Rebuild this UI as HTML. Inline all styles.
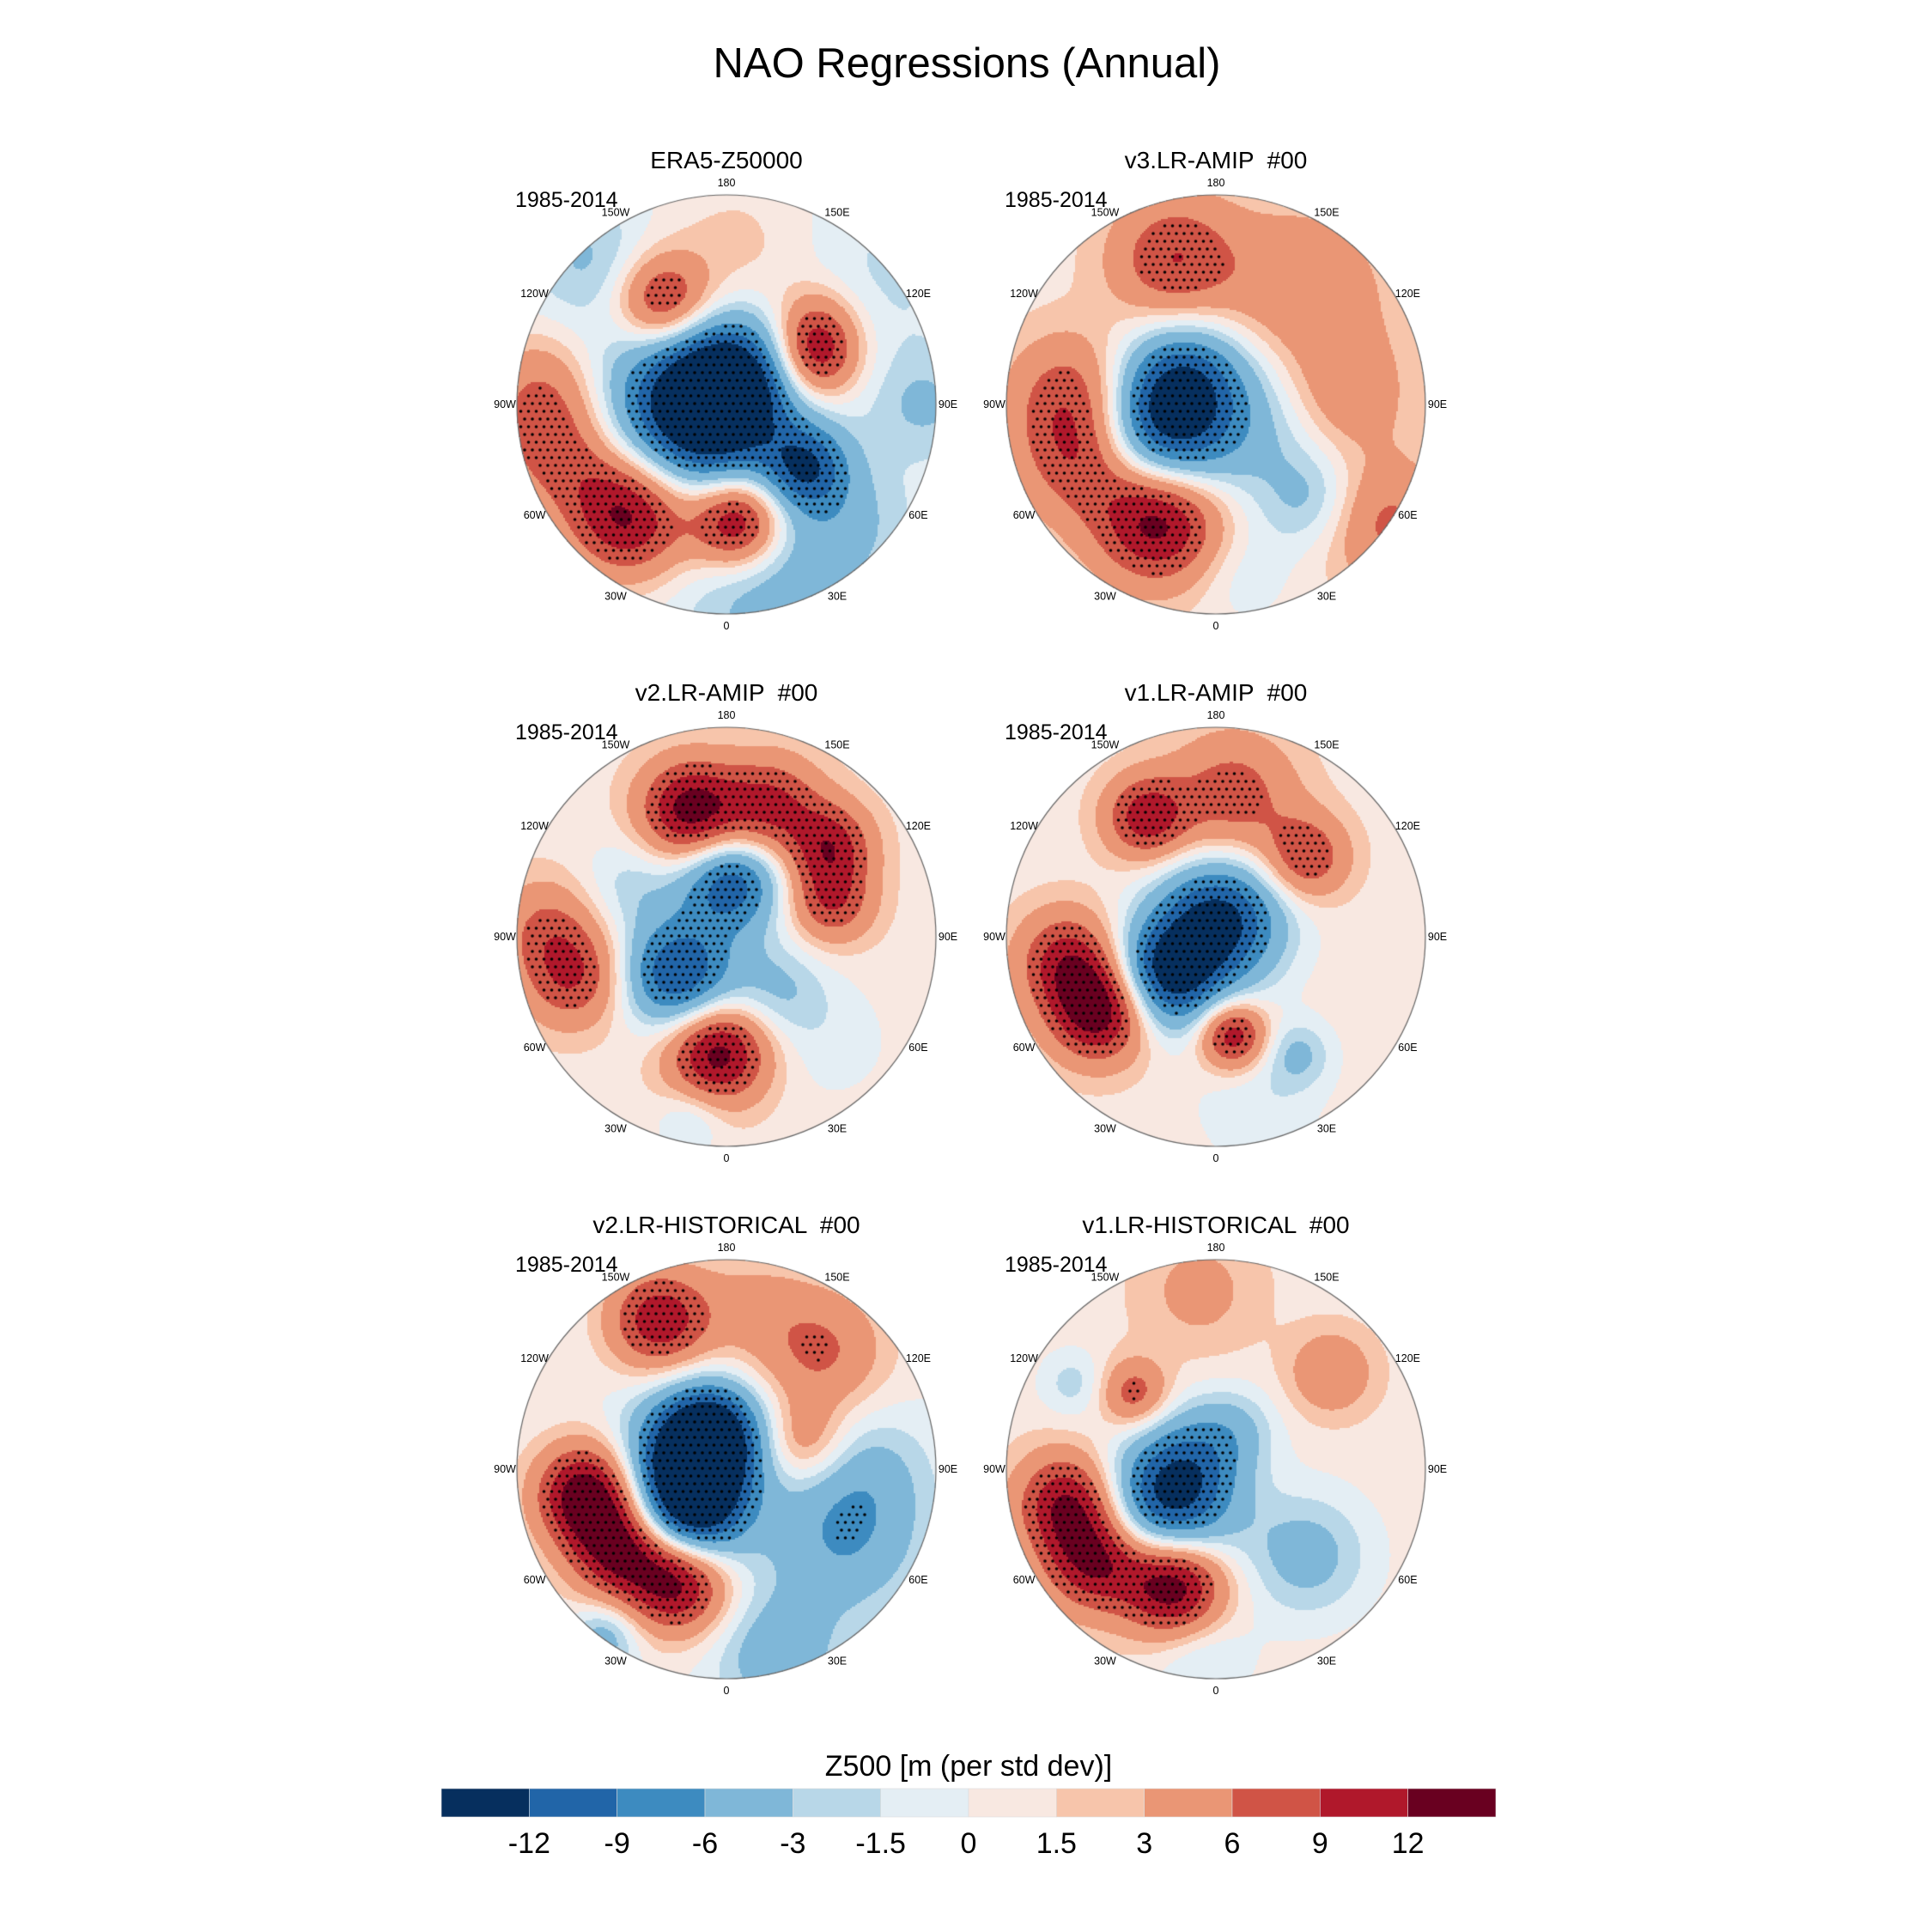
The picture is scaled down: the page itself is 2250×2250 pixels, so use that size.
<!DOCTYPE html>
<html><head><meta charset="utf-8">
<style>
html,body{margin:0;padding:0;background:#fff;}
#wrap{position:relative;width:2250px;height:2250px;overflow:hidden;}
canvas,svg{position:absolute;left:0;top:0;}
text{font-family:"Liberation Sans",sans-serif;fill:#000;white-space:pre;}
</style></head>
<body>
<div id="wrap">
<canvas id="cv" width="2250" height="2250"></canvas>
<svg id="sv" width="2250" height="2250" xml:space="preserve"></svg>
</div>
<script>
// contour levels and colors
const levels = [-12,-9,-6,-3,-1.5,0,1.5,3,6,9,12];
const levelLabels = ["-12","-9","-6","-3","-1.5","0","1.5","3","6","9","12"];
const colors = ["#062f5e","#2165a8","#3d8bc0","#7fb7d8","#b8d7e8","#e4eef4","#f8e8e1","#f7c5ab","#ea9675","#d05446","#b0182b","#690020"];
const panelTitles = ["ERA5-Z50000","v3.LR-AMIP  #00","v2.LR-AMIP  #00","v1.LR-AMIP  #00","v2.LR-HISTORICAL  #00","v1.LR-HISTORICAL  #00"];
const lonLabels = ["0","30E","60E","90E","120E","150E","180","150W","120W","90W","60W","30W"];
const lonValues = [0,30,60,90,120,150,180,210,240,270,300,330];
// background anomaly per panel
const baseValues = [-0.4,0.8,0.8,0.8,0.2,0.8];
// anomaly centres: [u, v, amplitude, sigma] (u,v in units of map radius)
const era5Blobs = [[-0.17,0.06,-14,0.2],[0.02,-0.1,-12,0.15],[0.38,0.3,-10,0.1],[0.2,0.86,-4,0.2],[0.55,0.55,-3,0.15],[0.94,0,-3,0.12],
 [-0.46,0.52,14,0.15],[0.05,0.56,14,0.11],[-0.81,0.22,7,0.15],[-0.9,-0.08,5,0.14],[-0.3,-0.49,10,0.11],[0.43,-0.21,9,0.1],[0.43,-0.37,6,0.1],
 [0.05,-0.73,2.5,0.2],[-0.65,-0.69,-3,0.14],[0.7,-0.6,-1.5,0.2]];
const v3amipBlobs = [[-0.27,0.14,-14,0.17],[-0.14,-0.14,-8,0.14],[0.24,0.06,-4,0.2],[0.46,0.46,-4,0.12],
 [-0.27,0.54,14,0.15],[-0.62,0.26,8,0.15],[-0.68,-0.04,7,0.15],[-0.2,-0.69,8,0.15],[0.4,-0.53,5,0.2],[0.6,-0.04,5,0.15],[0.8,0.56,6,0.15],[0.11,0.8,-2,0.12]];
const v2amipBlobs = [[0.02,-0.26,-12,0.12],[-0.23,0.18,-13,0.13],[-0.45,-0.25,-3,0.12],[0.24,0.25,-4,0.12],
 [-0.17,-0.6,13,0.12],[0.21,-0.62,9,0.12],[0.5,-0.44,9,0.1],[0.5,-0.17,8,0.1],[-0.04,0.55,13,0.12],[-0.73,0.19,8,0.12],[-0.86,-0.05,5,0.12],[-0.17,0.87,-3,0.08],[0.5,0.5,-1.5,0.15]];
const v1amipBlobs = [[0.02,-0.08,-14,0.15],[-0.24,0.19,-14,0.13],[-0.55,0.35,14,0.12],[-0.71,0.11,9,0.12],[0.08,0.47,11,0.08],
 [-0.33,-0.57,10,0.1],[0.43,-0.38,8,0.1],[0.08,-0.67,7,0.15],[0.39,0.56,-4,0.08],[0.2,0.8,-2,0.15]];
const v2histBlobs = [[-0.17,-0.04,-13,0.15],[-0.17,0.21,-13,0.13],[-0.07,-0.18,-11,0.12],[-0.67,0.12,14,0.12],[-0.51,0.38,12,0.12],[-0.23,0.54,13,0.12],
 [-0.32,-0.71,11,0.12],[0.46,-0.56,6,0.15],[0.37,-0.13,5,0.1],[0.12,-0.77,3,0.15],[0.56,0.33,-6,0.18],[0.24,0.88,-5,0.15],[0.68,0,-3,0.15],[-0.58,0.8,-5,0.08]];
const v1histBlobs = [[-0.22,0.14,-14,0.15],[-0.08,-0.09,-4,0.12],[0.1,-0.2,-3,0.1],[-0.71,0.16,11,0.12],[-0.58,0.44,11,0.12],[-0.2,0.56,14,0.12],
 [-0.39,-0.36,7,0.08],[0.55,-0.46,5,0.1],[-0.08,-0.85,3,0.15],[-0.68,-0.41,-3,0.08],[0.43,0.41,-5,0.15],[-0.08,0.88,-3,0.12]];
const panelBlobs = [era5Blobs,v3amipBlobs,v2amipBlobs,v1amipBlobs,v2histBlobs,v1histBlobs];

const centersX = [846,1416], centersY = [471,1091,1711], R = 244;
const sigmaScale = 1.4, ampScale = 1.0;
const cv = document.getElementById('cv'), ctx = cv.getContext('2d');
const sv = document.getElementById('sv'), NS = 'http://www.w3.org/2000/svg';

function colorFor(v){let i=0;while(i<levels.length&&v>=levels[i])i++;return colors[i];}
function field(blobs,base,u,v){let s=base;for(const b of blobs){const dx=u-b[0],dy=v-b[1];const sg=b[3]*sigmaScale;s+=ampScale*b[2]*Math.exp(-(dx*dx+dy*dy)/(2*sg*sg));}return s;}
function txt(x,y,s,size,anchor,name){const t=document.createElementNS(NS,'text');t.setAttribute('x',x);t.setAttribute('y',y);t.setAttribute('font-size',size);t.setAttribute('text-anchor',anchor||'middle');t.textContent=s;
 
 
 sv.appendChild(t);return t;}

txt(1126,90,'NAO Regressions (Annual)',49,'middle','main-title');

panelBlobs.forEach((blobs,p)=>{
  const cx=centersX[p%2], cy=centersY[Math.floor(p/2)];
  const step=2;
  for(let y=-R;y<R;y+=step){for(let x=-R;x<R;x+=step){
    const u=(x+1)/R,v=(y+1)/R; if(u*u+v*v>1.0)continue;
    ctx.fillStyle=colorFor(field(blobs,baseValues[p],u,v)); ctx.fillRect(cx+x,cy+y,step,step);}}
  // stippling
  ctx.fillStyle='#000';
  const sp=9;
  for(let j=-R;j<R;j+=sp){const off=(Math.round(j/sp)%2)?sp/2:0;for(let i=-R+off;i<R;i+=sp){
    const u=i/R,v=j/R; if(u*u+v*v>0.98)continue;
    if(Math.abs(field(blobs,baseValues[p],u,v))>=6.5){ctx.beginPath();ctx.arc(cx+i,cy+j,1.8,0,Math.PI*2);ctx.fill();}}}
  ctx.strokeStyle='#666';ctx.lineWidth=1.2;ctx.beginPath();ctx.arc(cx,cy,R,0,Math.PI*2);ctx.stroke();
  txt(cx,cy-275,panelTitles[p],28,'middle','panel-title');
  txt(cx-246,cy-230,'1985-2014',25,'start','period-label');
  lonValues.forEach((L,k)=>{const a=L*Math.PI/180;const rr=258;
    txt(cx+rr*Math.sin(a),cy+rr*Math.cos(a)+4,lonLabels[k],12.5,'middle','longitude-label');});
});

// colorbar
const cbX=514, cbW=1228, cbY=2083, cbH=33, bw=cbW/colors.length;
const g=document.createElementNS(NS,'g');


sv.appendChild(g);
colors.forEach((c,i)=>{const r=document.createElementNS(NS,'rect');r.setAttribute('x',cbX+i*bw);r.setAttribute('y',cbY);r.setAttribute('width',bw);r.setAttribute('height',cbH);r.setAttribute('fill',c);r.setAttribute('stroke','#ddd');r.setAttribute('stroke-width','0.6');
 
 
 g.appendChild(r);});
levelLabels.forEach((s,i)=>txt(cbX+(i+1)*bw,2158,s,34,'middle','colorbar-tick-label'));
txt(1128,2068,'Z500 [m (per std dev)]',34,'middle','colorbar-title');
</script>
</body></html>
